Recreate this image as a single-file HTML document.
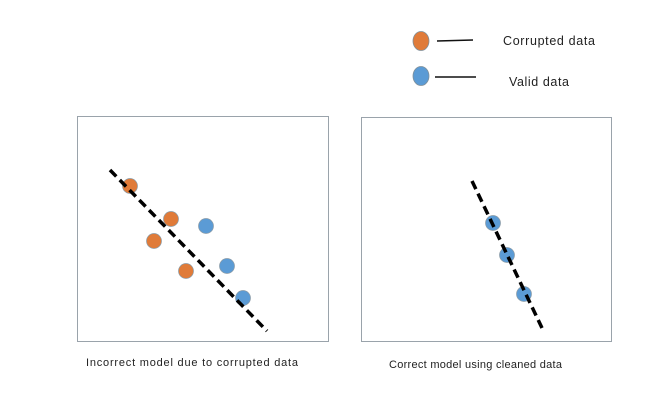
<!DOCTYPE html>
<html><head><meta charset="utf-8"><style>
body{margin:0;background:#fff;width:662px;height:409px;overflow:hidden}
svg{display:block;font-family:"Liberation Sans",sans-serif}
</style></head><body>
<svg id="c" width="662" height="409">
<g>
<ellipse cx="421" cy="41" rx="8" ry="9.5" fill="#e07b39" stroke="#7f8f99" stroke-width="0.8"/>
<line x1="437" y1="41" x2="473" y2="40" stroke="#111" stroke-width="1.6"/>
<text x="503" y="45" font-size="12.5" textLength="92" fill="#222">Corrupted data</text>
<ellipse cx="421" cy="76" rx="8" ry="9.5" fill="#5b9bd5" stroke="#7f8f99" stroke-width="0.8"/>
<line x1="435" y1="77" x2="476" y2="77" stroke="#111" stroke-width="1.6"/>
<text x="509" y="86" font-size="12.5" textLength="60" fill="#222">Valid data</text>
</g>
<rect x="77.5" y="116.5" width="251" height="225" fill="none" stroke="#9aa3ab" stroke-width="1"/>
<rect x="361.5" y="117.5" width="250" height="224" fill="none" stroke="#9aa3ab" stroke-width="1"/>
<text x="86" y="366" font-size="11" textLength="212" fill="#222">Incorrect model due to corrupted data</text>
<text x="389" y="368" font-size="11" textLength="173" fill="#222">Correct model using cleaned data</text>
<g id="plots"></g>
</svg>
<script>
// left panel data (box-relative units, 0..250 x, 0..225 y from top)
const leftCorruptedX=[53,94,77,109];
const leftCorruptedY=[70,103,125,155];
const leftValidX=[129,150,166];
const leftValidY=[110,150,182];
const leftFitX=[33,190];
const leftFitY=[54,215];
// right panel data
const rightValidX=[132,146,163];
const rightValidY=[106,138,177];
const rightFitX=[111,181];
const rightFitY=[64,211];
const NS='http://www.w3.org/2000/svg';
const g=document.getElementById('plots');
function sx(ox){return v=>ox+v;}
function sy(oy){return v=>oy+v;}
function line(xs,ys,X,Y,name){
  const l=document.createElementNS(NS,'line');
  l.setAttribute('x1',X(xs[0]));l.setAttribute('y1',Y(ys[0]));
  l.setAttribute('x2',X(xs[1]));l.setAttribute('y2',Y(ys[1]));
  l.setAttribute('stroke','#000');l.setAttribute('stroke-width','3.5');
  l.setAttribute('stroke-dasharray','9 5');
  
  
  g.appendChild(l);
}
function pts(xs,ys,X,Y,color,name){
  xs.forEach((v,i)=>{
    const c=document.createElementNS(NS,'circle');
    c.setAttribute('cx',X(v));c.setAttribute('cy',Y(ys[i]));c.setAttribute('r','7.5');
    c.setAttribute('fill',color);c.setAttribute('stroke','#8a9aa5');c.setAttribute('stroke-width','0.7');
    
    
    g.appendChild(c);
  });
}
const LX=sx(77),LY=sy(116),RX=sx(361),RY=sy(117);
pts(leftCorruptedX,leftCorruptedY,LX,LY,'#e07b39','left-corrupted-point');
pts(leftValidX,leftValidY,LX,LY,'#5b9bd5','left-valid-point');
line(leftFitX,leftFitY,LX,LY,'left-fit-line');
pts(rightValidX,rightValidY,RX,RY,'#5b9bd5','right-valid-point');
line(rightFitX,rightFitY,RX,RY,'right-fit-line');
</script>
</body></html>
